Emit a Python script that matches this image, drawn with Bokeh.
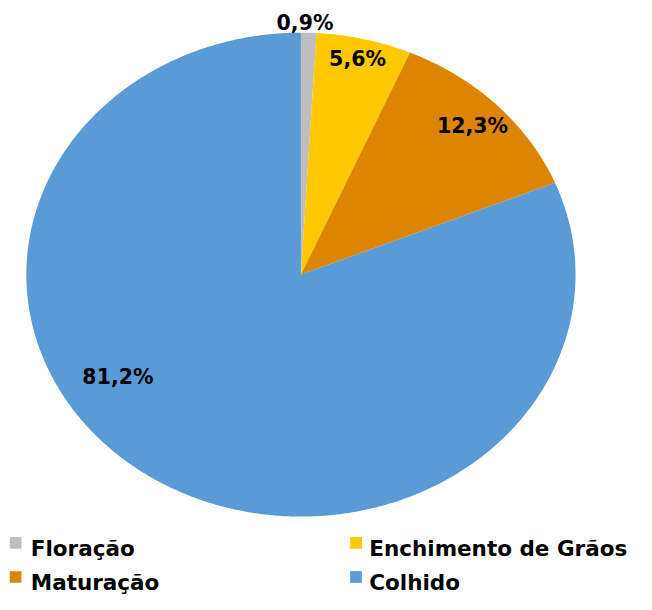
import numpy as np
from bokeh.plotting import figure
from bokeh.models import Range1d
from bokeh.core.properties import value
from bokeh.embed import file_html
from bokeh.resources import INLINE

# ---- data ----
categories = ["Floração", "Enchimento de Grãos", "Maturação", "Colhido"]
percentages = [0.9, 5.6, 12.3, 81.2]
labels = ["0,9%", "5,6%", "12,3%", "81,2%"]

# ---- styles ----
colors = ["#BEBEBE", "#FFC800", "#DD8500", "#5B9BD5"]
W, H = 636, 594            # figure size in screen pixels
DW, DH = 652, 610          # data space = reference picture space
CX, CY, RX, RY = 308.0, 281.5, 281.5, 248.5
label_r = [1.038, 0.915, 0.877, 0.789]
label_dtheta = [-0.8, -0.3, -0.1, 23.8]  # degrees
FONT = value("DejaVu Sans")

p = figure(width=W, height=H, x_range=Range1d(0, DW), y_range=Range1d(DH, 0),
           output_backend="svg", toolbar_location=None, min_border=0)
p.xaxis.visible = False
p.yaxis.visible = False
p.xgrid.visible = False
p.ygrid.visible = False
p.outline_line_color = None
p.background_fill_color = "white"
p.border_fill_color = "white"

# ---- wedges (angles clockwise from top) ----
vals = np.array(percentages, dtype=float)
frac = vals / vals.sum()
ends = np.cumsum(frac) * 2 * np.pi
starts = ends - frac * 2 * np.pi
xs, ys = [], []
for a0, a1 in zip(starts, ends):
    n = max(int((a1 - a0) / (2 * np.pi) * 720), 4)
    t = np.linspace(a0, a1, n)
    xs.append(np.concatenate([[CX], CX + RX * np.sin(t), [CX]]))
    ys.append(np.concatenate([[CY], CY - RY * np.cos(t), [CY]]))
p.patches(xs=xs, ys=ys, fill_color=colors, line_color=None)

# ---- data labels ----
mids = (starts + ends) / 2 + np.radians(label_dtheta)
lx = CX + RX * np.array(label_r) * np.sin(mids)
ly = CY - RY * np.array(label_r) * np.cos(mids)
p.text(x=lx, y=ly, text=labels, text_font=FONT, text_font_style="bold",
       text_font_size="20.5px", text_color="#000000",
       text_align="center", text_baseline="middle")

# ---- legend (2 columns, row-major) ----
col_sq_x = [15.5, 364.5]
col_tx_x = [31.0, 378.0]
row_base = [563.0, 598.0]
sq_x, sq_y, tx_x, tx_y = [], [], [], []
for i in range(len(categories)):
    r, c = divmod(i, 2)
    sq_x.append(col_sq_x[c]); sq_y.append(row_base[r] - 6)
    tx_x.append(col_tx_x[c]); tx_y.append(row_base[r])
p.rect(x=sq_x, y=sq_y, width=12, height=12, fill_color=colors, line_color=None)
p.text(x=tx_x, y=tx_y, text=categories, text_font=FONT, text_font_style="bold",
       text_font_size="21.5px", text_color="#000000",
       text_align="left", text_baseline="alphabetic")

open("out.html", "w").write(file_html(p, INLINE))
